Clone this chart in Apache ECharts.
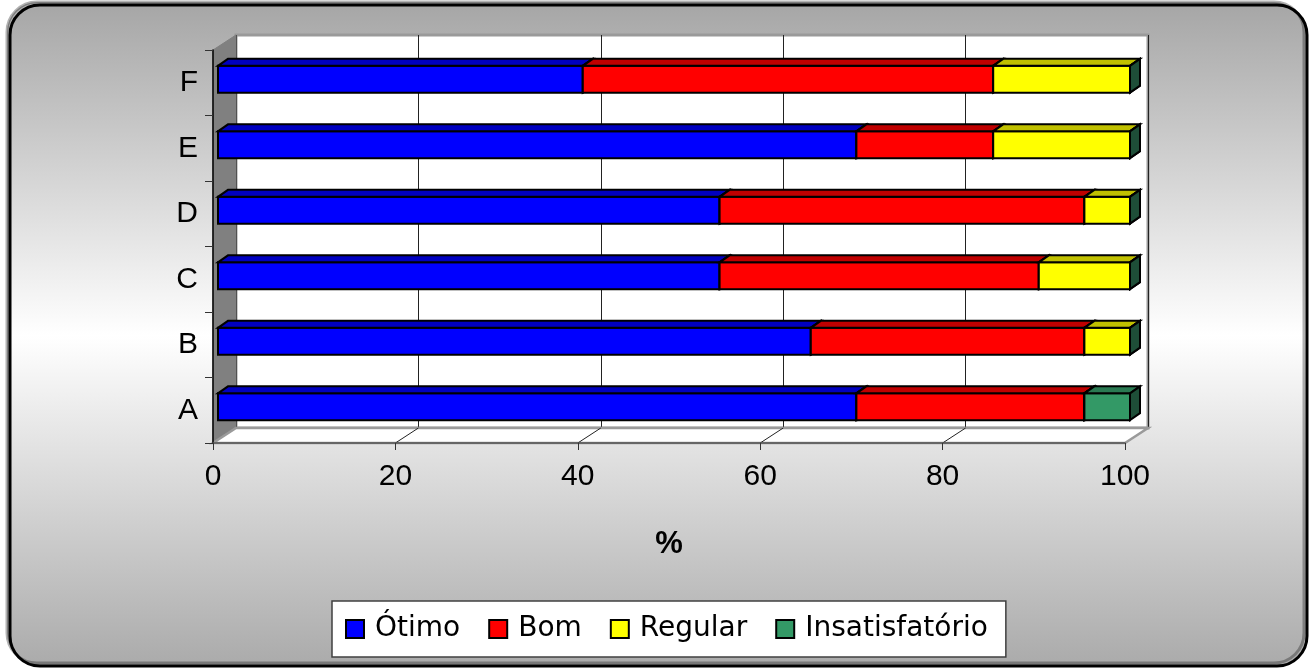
<!DOCTYPE html>
<html><head><meta charset="utf-8">
<script src="https://cdn.jsdelivr.net/npm/echarts@6/dist/echarts.min.js"></script>
<style>html,body{margin:0;padding:0;background:#fff}#c{width:1311px;height:671px}</style>
</head><body><div id="c"></div>
<script>
// ---- data ----
const categories = ['A', 'B', 'C', 'D', 'E', 'F'];
const otimo = [70, 65, 55, 55, 70, 40];
const bom = [25, 30, 35, 40, 15, 45];
const regular = [0, 5, 10, 5, 15, 15];
const insatisfatorio = [5, 0, 0, 0, 0, 0];
const xTicks = [0, 20, 40, 60, 80, 100];
const seriesNames = ['Ótimo', 'Bom', 'Regular', 'Insatisfatório'];
const axisTitle = '%';

// ---- styles / layout ----
const FRONT_COLORS = ['#0000FF', '#FF0000', '#FFFF00', '#339966'];
const TOP_COLORS = ['#0000C0', '#C00000', '#C0C000', '#2A7A52'];
const SIDE_COLORS = ['#000080', '#800000', '#808000', '#1E4E38'];
const FR = { left: 213, top: 50, width: 912, height: 393 };
const DEP = { x: 23, y: -15 };
const BAR = { dx: 5, dy: -3.5, tx: 10, ty: -7, ratio: 0.41 };
const FONT = 'Liberation Sans, Arial, sans-serif';
const LEGEND_FONT = 'DejaVu Sans, sans-serif';

const chart = echarts.init(document.getElementById('c'));

const valueSets = [otimo, bom, regular, insatisfatorio];
const cum = categories.map(() => 0);
const barSeries = valueSets.map((vals, si) => {
  const data = vals.map((v, ci) => { const s = cum[ci]; cum[ci] += v; return [s, s + v, ci]; });
  return {
    type: 'custom', name: seriesNames[si], xAxisIndex: 0, yAxisIndex: 0, z: 3,
    itemStyle: { color: FRONT_COLORS[si], borderColor: '#000', borderWidth: 2 },
    encode: { x: [0, 1], y: 2 },
    data: data,
    renderItem: function (params, api) {
      const p0 = api.coord([api.value(0), api.value(2)]);
      const p1 = api.coord([api.value(1), api.value(2)]);
      const band = api.size([0, 1])[1];
      const h = band * BAR.ratio;
      const x0 = p0[0] + BAR.dx, x1 = p1[0] + BAR.dx;
      const yc = p0[1] + BAR.dy;
      const yt = yc - h / 2, yb = yc + h / 2;
      const stroke = { stroke: '#000', lineWidth: 2, lineJoin: 'miter' };
      return {
        type: 'group',
        children: [
          { type: 'rect', shape: { x: x0, y: yt, width: x1 - x0, height: h },
            style: Object.assign({ fill: FRONT_COLORS[si] }, stroke) },
          { type: 'polygon', shape: { points: [[x0, yt], [x1, yt], [x1 + BAR.tx, yt + BAR.ty], [x0 + BAR.tx, yt + BAR.ty]] },
            style: Object.assign({ fill: TOP_COLORS[si] }, stroke) },
          { type: 'polygon', shape: { points: [[x1, yt], [x1 + BAR.tx, yt + BAR.ty], [x1 + BAR.tx, yb + BAR.ty], [x1, yb]] },
            style: Object.assign({ fill: SIDE_COLORS[si] }, stroke) }
        ]
      };
    }
  };
});

const wallSeries = {
  type: 'custom', xAxisIndex: 0, yAxisIndex: 0, z: 1, silent: true,
  data: xTicks.map(v => [v, 0]), encode: { x: 0, y: 1 },
  renderItem: function (params, api) {
    const cs = params.coordSys;
    const bottom = cs.y + cs.height;
    const x = api.coord([api.value(0), 0])[0];
    const children = [];
    if (params.dataIndex === 0) {
      children.push({ type: 'polygon', shape: { points: [[cs.x, cs.y], [cs.x + DEP.x, cs.y + DEP.y], [cs.x + DEP.x, bottom + DEP.y], [cs.x, bottom]] },
        style: { fill: '#808080', stroke: '#808080', lineWidth: 1 } });
      children.push({ type: 'polygon', shape: { points: [[cs.x, bottom], [cs.x + cs.width, bottom], [cs.x + cs.width + DEP.x, bottom + DEP.y], [cs.x + DEP.x, bottom + DEP.y]] },
        style: { fill: '#ffffff', stroke: '#9a9a9a', lineWidth: 2.5 } });
    }
    if (api.value(0) > 0 && api.value(0) < 100) {
      children.push({ type: 'line', shape: { x1: x, y1: bottom, x2: x + DEP.x, y2: bottom + DEP.y },
        style: { stroke: '#222', lineWidth: 1 } });
    }
    return { type: 'group', children: children };
  }
};

chart.setOption({
  animation: false,
  graphic: [{
    type: 'rect', z: -100, silent: true,
    shape: { x: 10, y: 5, width: 1297, height: 661, r: 30 },
    style: {
      fill: new echarts.graphic.LinearGradient(0, 0, 0, 1, [
        { offset: 0, color: '#a6a6a6' }, { offset: 0.5, color: '#ffffff' }, { offset: 1, color: '#aaaaaa' }]),
      stroke: '#000', lineWidth: 3,
      shadowColor: 'rgba(0,0,0,0.3)', shadowOffsetX: -3, shadowOffsetY: -3, shadowBlur: 0
    }
  }],
  grid: [
    { left: FR.left, top: FR.top, width: FR.width, height: FR.height, containLabel: false },
    { left: FR.left + DEP.x, top: FR.top + DEP.y, width: FR.width, height: FR.height, show: true,
      backgroundColor: '#ffffff', borderColor: '#9a9a9a', borderWidth: 3 }
  ],
  xAxis: [
    { type: 'value', gridIndex: 0, min: 0, max: 100, interval: 20, z: 4,
      name: axisTitle, nameLocation: 'middle', nameGap: 86,
      nameTextStyle: { fontSize: 31, fontWeight: 'bold', color: '#000', fontFamily: FONT },
      axisLine: { show: true, lineStyle: { color: '#555', width: 1.5 } },
      axisTick: { show: true, length: 7, lineStyle: { color: '#333', width: 1 } },
      axisLabel: { fontSize: 30, color: '#000', margin: 19, fontFamily: FONT },
      splitLine: { show: false } },
    { type: 'value', gridIndex: 1, min: 0, max: 100, interval: 20,
      axisLine: { show: false }, axisTick: { show: false }, axisLabel: { show: false },
      splitLine: { show: true, lineStyle: { color: '#222', width: 1 } } }
  ],
  yAxis: [
    { type: 'category', gridIndex: 0, data: categories, z: 4,
      axisLine: { show: true, lineStyle: { color: '#000', width: 1.5 } },
      axisTick: { show: true, length: 8, lineStyle: { color: '#333', width: 1 } },
      axisLabel: { fontSize: 30, color: '#000', margin: 15, fontFamily: FONT },
      splitLine: { show: false } },
    { type: 'category', gridIndex: 1, data: categories, show: false,
      axisLine: { show: false }, axisTick: { show: false }, axisLabel: { show: false }, splitLine: { show: false } }
  ],
  legend: {
    data: seriesNames, left: 332, top: 601, orient: 'horizontal', icon: 'rect',
    itemWidth: 18, itemHeight: 18, itemGap: 28, selectedMode: false,
    backgroundColor: '#ffffff', borderColor: '#404040', borderWidth: 1.5, borderRadius: 0,
    padding: [14, 18, 14, 13],
    itemStyle: { borderColor: '#000', borderWidth: 2 },
    textStyle: { fontSize: 28, color: '#000', fontFamily: LEGEND_FONT, padding: [0, 0, 0, 6] }
  },
  series: [wallSeries].concat(barSeries)
});
</script></body></html>
